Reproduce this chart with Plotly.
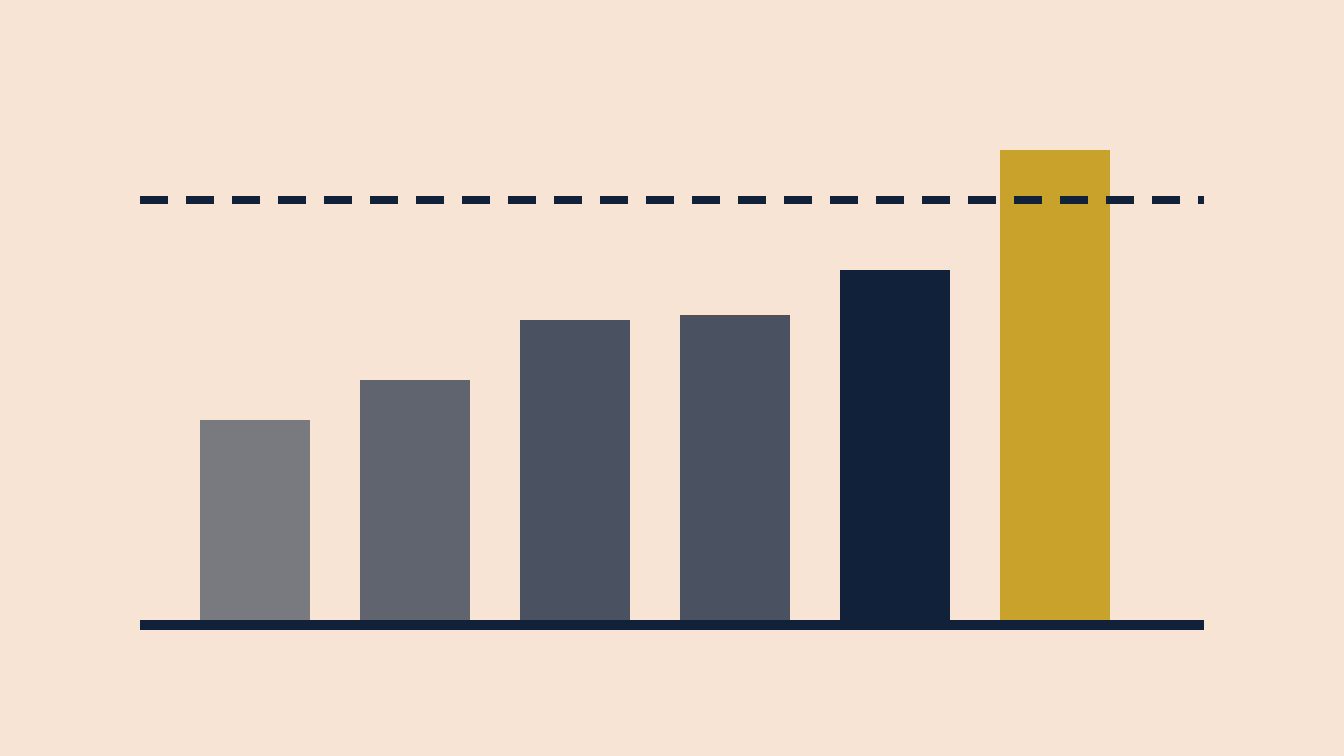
import plotly.graph_objects as go

categories = ['A', 'B', 'C', 'D', 'E', 'F']
values = [40, 48, 60, 61, 70, 94]
target = 84
bar_colors = ['#797A80', '#60646E', '#4A5160', '#4A5160', '#12213A', '#C9A22B']

bg = '#F8E4D4'
navy = '#12213A'

fig = go.Figure()
fig.add_trace(go.Bar(
    x=categories,
    y=values,
    marker=dict(color=bar_colors, line=dict(width=0)),
    hoverinfo='skip',
))

# target line (dashed) and baseline
fig.add_shape(type='line', xref='paper', yref='y', x0=0, x1=1, y0=target, y1=target,
              line=dict(color=navy, width=8, dash='28px,18px'), layer='above')
fig.add_shape(type='line', xref='paper', yref='y', x0=0, x1=1, y0=-1, y1=-1,
              line=dict(color=navy, width=10), layer='above')

fig.update_layout(
    width=1344,
    height=756,
    paper_bgcolor=bg,
    plot_bgcolor=bg,
    showlegend=False,
    bargap=0.3125,
    margin=dict(l=140, r=140, t=100, b=100),
    xaxis=dict(range=[-0.71875, 5.93125], visible=False, fixedrange=True),
    yaxis=dict(range=[-7.2, 104], visible=False, fixedrange=True),
)

# drop the browser's default 8px body margin
fig.write_html("out.html", config={'displayModeBar': False},
               post_script="document.body.style.margin='0';document.body.style.background='%s';" % bg)
